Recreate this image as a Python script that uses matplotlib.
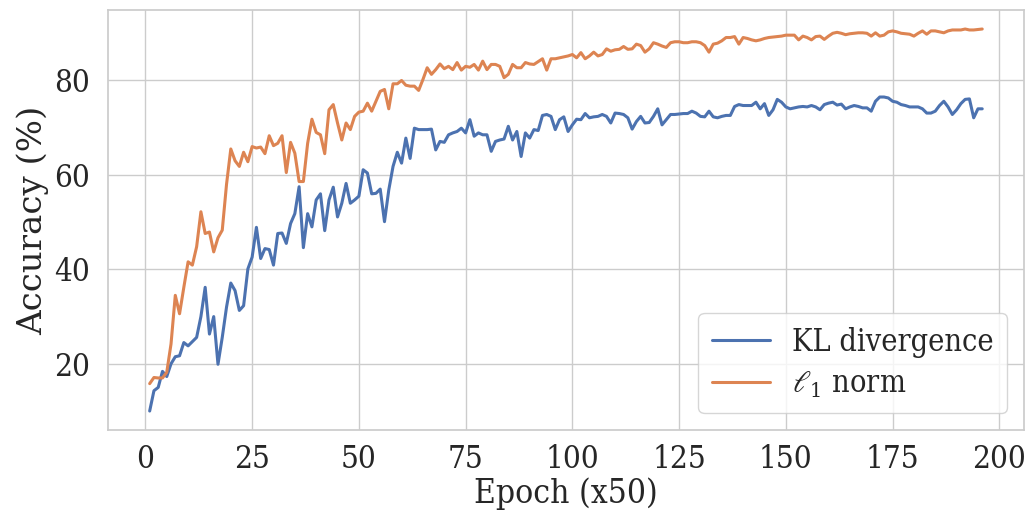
import numpy as np
import matplotlib
matplotlib.use('Agg')
import matplotlib.pyplot as plt
import seaborn as sns

# accuracy (%) per evaluation step
kl_div = [10.0, 14.3, 15.0, 18.4, 17.3, 20.0, 21.5, 21.7, 24.5, 23.8,
          24.7, 25.6, 30.0, 36.2, 26.3, 30.0, 19.9, 25.6, 32.0, 37.1,
          35.5, 31.3, 32.3, 40.1, 42.6, 48.9, 42.3, 44.4, 44.2, 40.9,
          47.6, 47.7, 45.5, 49.7, 51.8, 57.5, 44.6, 51.8, 49.0, 54.7,
          56.0, 48.2, 54.7, 57.4, 51.1, 54.0, 58.2, 54.0, 54.7, 55.5,
          61.1, 60.4, 56.0, 56.1, 57.0, 50.1, 56.8, 61.8, 64.8, 62.5,
          67.8, 63.5, 69.9, 69.6, 69.6, 69.6, 69.7, 65.3, 67.1, 66.9,
          68.5, 68.9, 69.2, 69.9, 68.9, 71.7, 68.2, 68.9, 68.5, 68.5,
          65.0, 67.1, 67.4, 67.6, 70.3, 67.4, 69.2, 63.9, 68.9, 67.8,
          69.6, 69.4, 72.6, 72.8, 72.4, 69.6, 71.7, 72.3, 69.2, 70.6,
          71.8, 71.7, 73.0, 72.1, 72.3, 72.4, 72.8, 72.4, 71.0, 73.1,
          73.0, 72.8, 72.1, 69.7, 71.3, 72.4, 71.0, 71.1, 72.4, 74.0,
          70.6, 71.7, 72.8, 72.8, 72.9, 73.0, 73.0, 73.5, 73.1, 72.4,
          72.3, 73.5, 72.3, 72.1, 72.4, 72.6, 72.6, 74.5, 74.9, 74.7,
          74.7, 74.7, 75.4, 74.0, 75.1, 72.6, 73.8, 76.0, 75.4, 74.4,
          74.0, 74.2, 74.4, 74.5, 74.4, 74.7, 74.4, 73.8, 74.9, 75.2,
          75.4, 74.8, 75.0, 74.0, 74.4, 74.7, 74.5, 74.2, 74.2, 73.5,
          75.6, 76.5, 76.5, 76.3, 75.6, 75.4, 74.9, 74.7, 74.4, 74.4,
          74.4, 74.0, 73.1, 73.1, 73.5, 74.7, 75.6, 74.4, 72.8, 73.8,
          75.1, 76.0, 76.1, 72.1, 74.0, 74.0]

l1_norm = [15.8, 17.1, 17.0, 17.0, 18.2, 24.2, 34.5, 30.6, 36.2, 41.6,
           40.9, 44.8, 52.2, 47.6, 47.9, 43.7, 46.7, 48.3, 58.0, 65.5,
           63.0, 61.8, 64.8, 62.8, 66.0, 65.7, 65.9, 64.5, 68.3, 66.2,
           66.7, 68.3, 60.5, 66.9, 64.6, 58.6, 58.6, 66.7, 71.8, 69.0,
           68.5, 64.5, 73.8, 74.9, 71.0, 67.4, 71.0, 69.6, 72.4, 73.3,
           73.5, 75.2, 73.5, 75.6, 77.7, 78.1, 74.0, 79.3, 79.3, 80.0,
           79.0, 78.8, 78.8, 77.9, 80.2, 82.7, 81.3, 82.3, 83.5, 82.5,
           83.0, 82.3, 83.8, 82.2, 83.0, 82.8, 83.4, 82.2, 84.1, 82.3,
           83.4, 83.4, 83.0, 80.6, 81.3, 83.4, 82.7, 82.7, 83.8, 83.5,
           83.4, 84.0, 84.6, 82.2, 84.6, 84.6, 84.8, 85.0, 85.2, 85.5,
           84.8, 85.9, 84.6, 85.2, 86.0, 85.2, 85.5, 86.7, 86.2, 86.5,
           86.6, 87.2, 86.6, 86.7, 87.7, 87.4, 86.0, 86.7, 88.0, 87.7,
           87.3, 87.0, 88.0, 88.2, 88.2, 88.0, 88.0, 88.2, 88.2, 88.0,
           87.4, 86.0, 87.7, 87.9, 88.4, 89.1, 89.1, 89.3, 87.7, 89.1,
           88.9, 88.6, 88.4, 88.6, 88.9, 89.1, 89.2, 89.3, 89.4, 89.6,
           89.6, 89.6, 88.6, 89.4, 89.1, 88.6, 89.3, 89.4, 88.7, 89.4,
           90.0, 90.2, 90.0, 89.7, 89.9, 90.0, 90.1, 90.1, 90.0, 89.4,
           90.1, 89.4, 89.6, 90.3, 90.5, 90.3, 90.0, 89.9, 89.8, 89.4,
           90.0, 90.5, 89.8, 90.5, 90.5, 90.3, 90.1, 90.5, 90.7, 90.7,
           90.7, 90.9, 90.7, 90.7, 90.8, 90.9]

epochs = np.arange(1, len(kl_div) + 1)

sns.set_theme(style='whitegrid')
plt.rcParams['font.family'] = ['DejaVu Serif']
plt.rcParams['font.stretch'] = 'condensed'
plt.rcParams['mathtext.fontset'] = 'dejavuserif'

fig, ax = plt.subplots(figsize=(10.29, 5.22), dpi=100)
fig.subplots_adjust(left=0.105, right=0.995, top=0.981, bottom=0.176)

ax.plot(epochs, kl_div, color='#4C72B0', linewidth=2.2, label='KL divergence')
ax.plot(epochs, l1_norm, color='#DD8452', linewidth=2.2, label=r'$\ell_1$ norm')

ax.set_xticks(np.arange(0, 201, 25))
ax.set_yticks([20, 40, 60, 80])
ax.tick_params(axis='both', labelsize=22.5, length=0)
ax.tick_params(axis='y', pad=13)
ax.tick_params(axis='x', pad=10)

ax.set_xlabel('Epoch (x50)', fontsize=24)
ax.xaxis.label.set_va('baseline')
ax.xaxis.set_label_coords(0.5, -0.174)

# vertical text is not squeezed in the original, so use normal width here
ax.set_ylabel('Accuracy (%)', fontsize=24.5, fontstretch='normal')
ax.yaxis.label.set_va('baseline')
ax.yaxis.set_label_coords(-0.072, 0.5)

ax.legend(loc='lower right', fontsize=22, frameon=True, borderpad=0.45,
          handlelength=1.9, handletextpad=0.7, labelspacing=0.35,
          borderaxespad=0.55)

plt.savefig('out.png', dpi=100)
